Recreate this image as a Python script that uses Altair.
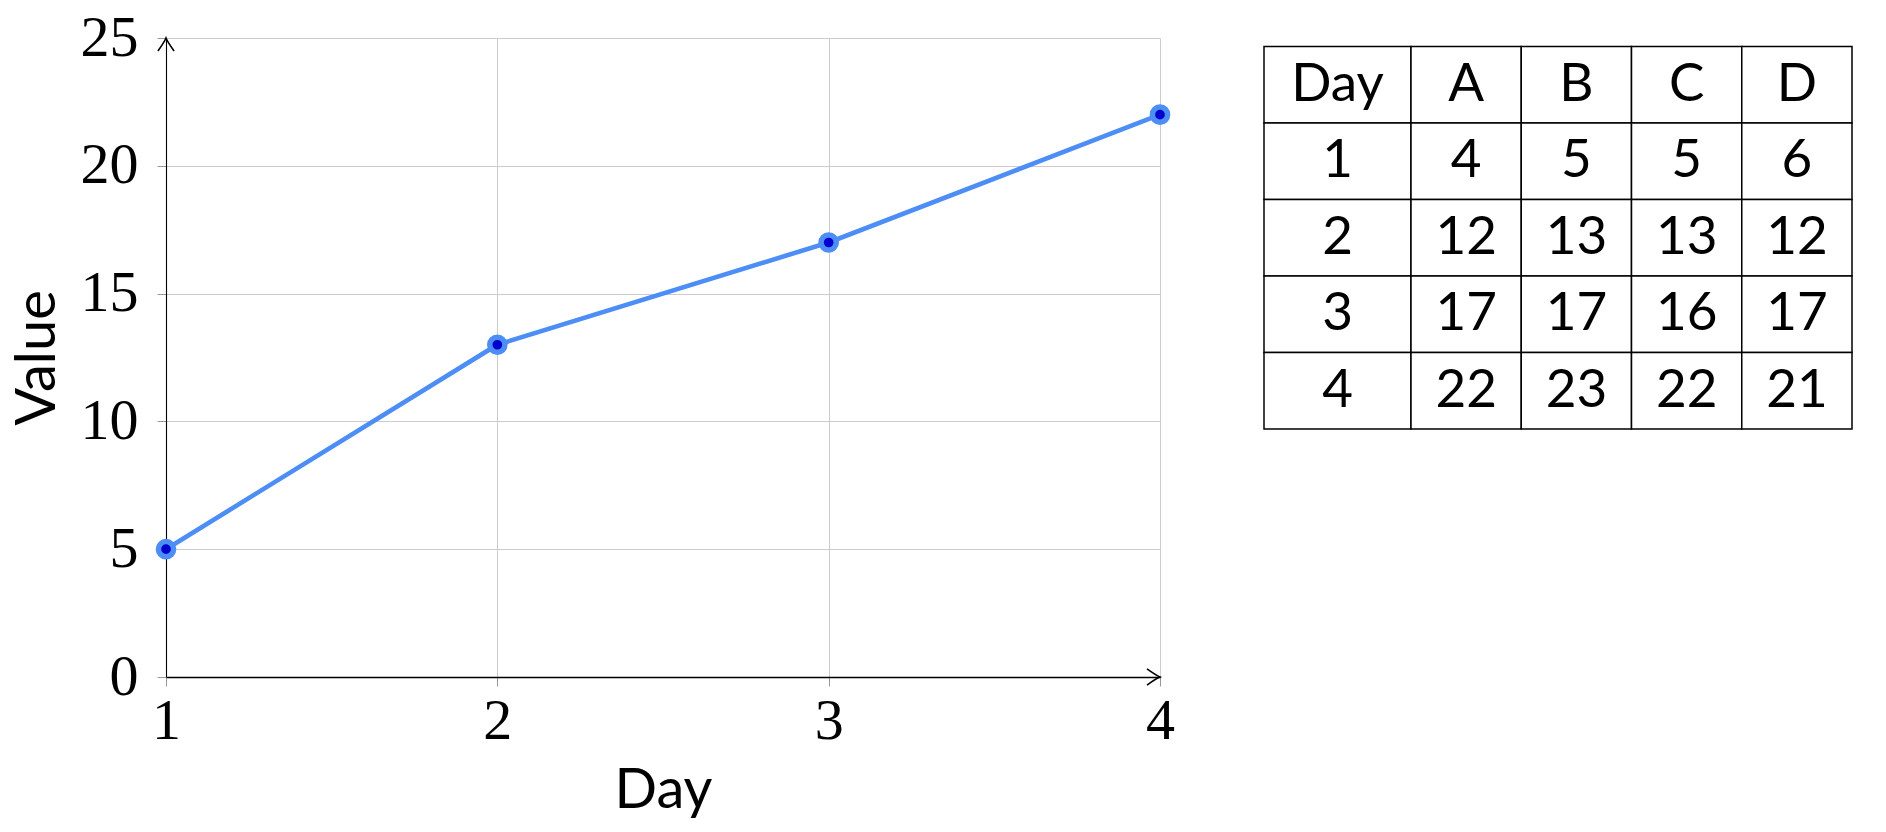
import altair as alt
import pandas as pd

# ---- data ----
days = [1, 2, 3, 4]
values = [5, 13, 17, 22]
y_ticks = [0, 5, 10, 15, 20, 25]
x_ticks = [1, 2, 3, 4]

table_columns = ["Day", "A", "B", "C", "D"]
table_days = [1, 2, 3, 4]
col_a = [4, 12, 17, 22]
col_b = [5, 13, 17, 23]
col_c = [5, 13, 16, 22]
col_d = [6, 12, 17, 21]

# ---- styles ----
BLUE = "#4c8df6"
DARK = "#0000cc"
GRID = "#cccccc"
TICK = "#999999"
SERIF = "Liberation Serif"
SANS = "Lato"

x_min, x_max = 1, 4
y_min, y_max = 0, 25

line_df = pd.DataFrame({"Day": days, "Value": values})

x_scale = alt.Scale(domain=[x_min, x_max], nice=False, zero=False)
y_scale = alt.Scale(domain=[y_min, y_max], nice=False, zero=False)

x_axis = alt.Axis(
    values=x_ticks, title="Day", grid=True, gridColor=GRID, gridWidth=1,
    domainColor="black", domainWidth=1.6, tickColor=TICK, tickSize=9, tickWidth=1,
    labelFont=SERIF, labelFontSize=58, labelColor="black", labelPadding=6,
    labelFlush=False, labelOverlap=False, format="d",
    titleFont=SANS, titleFontSize=56, titleFontWeight="normal", titleColor="black",
    titlePadding=13,
)
y_axis = alt.Axis(
    values=y_ticks, title="Value", grid=True, gridColor=GRID, gridWidth=1,
    domainColor="black", domainWidth=1.1, tickColor=TICK, tickSize=9, tickWidth=1,
    labelFont=SERIF, labelFontSize=58, labelColor="black", labelPadding=19,
    labelFlush=False, labelOverlap=False, format="d",
    titleFont=SANS, titleFontSize=56, titleFontWeight="normal", titleColor="black",
    titlePadding=14,
)

base = alt.Chart(line_df)
line = base.mark_line(color=BLUE, strokeWidth=4.6).encode(
    x=alt.X("Day:Q", scale=x_scale, axis=x_axis),
    y=alt.Y("Value:Q", scale=y_scale, axis=y_axis),
)
points = base.mark_circle(fill=DARK, stroke=BLUE, strokeWidth=5.5, size=230, opacity=1).encode(
    x=alt.X("Day:Q"), y=alt.Y("Value:Q")
)

ARROW = "M -1 -0.62 Q -0.3 -0.12 0 0 Q -0.3 0.12 -1 0.62"
arrow_df = pd.DataFrame({"x": [x_max, x_min], "y": [y_min, y_max], "angle": [0, 270]})
arrows = alt.Chart(arrow_df).mark_point(
    shape=ARROW, size=676, filled=False, stroke="black", strokeWidth=1.6, opacity=1
).encode(
    x=alt.X("x:Q"), y=alt.Y("y:Q"), angle=alt.Angle("angle:Q", scale=None)
)

plot = alt.layer(line, points, arrows).properties(width=994, height=639)

# ---- table ----
col_weights = [4 / 3, 1, 1, 1, 1]
edges = [0]
for w in col_weights:
    edges.append(edges[-1] + w)

rows = [table_columns] + [
    [str(d), str(a), str(b), str(c), str(e)]
    for d, a, b, c, e in zip(table_days, col_a, col_b, col_c, col_d)
]
cells = []
for r, row in enumerate(rows):
    for c, txt in enumerate(row):
        cells.append({
            "text": txt, "r0": r, "r1": r + 1, "rm": r + 0.5,
            "c0": edges[c], "c1": edges[c + 1], "cm": (edges[c] + edges[c + 1]) / 2,
        })
cell_df = pd.DataFrame(cells)

TOP_GAP = 8.5
ROW_H = 76.5
top_pad = TOP_GAP / ROW_H
tx = alt.Scale(domain=[0, edges[-1]], nice=False, zero=False)
ty = alt.Scale(domain=[-top_pad, len(rows)], nice=False, zero=False, reverse=True)

tbase = alt.Chart(cell_df)
rects = tbase.mark_rect(fill="white", stroke="black", strokeWidth=1.5).encode(
    x=alt.X("c0:Q", scale=tx, axis=None), x2="c1:Q",
    y=alt.Y("r0:Q", scale=ty, axis=None), y2="r1:Q",
)
texts = tbase.mark_text(font=SANS, fontSize=53, color="black", align="center", baseline="middle").encode(
    x=alt.X("cm:Q", scale=tx, axis=None),
    y=alt.Y("rm:Q", scale=ty, axis=None),
    text="text:N",
)
table = alt.layer(rects, texts).properties(width=588, height=ROW_H * len(rows) + TOP_GAP)

chart = alt.hconcat(plot, table, spacing=104, bounds="flush").properties(
    padding={"left": 1, "top": 1, "right": 5, "bottom": 5}
).configure_view(stroke=None)

chart.save("out.html", embed_options={"renderer": "svg", "actions": False})
